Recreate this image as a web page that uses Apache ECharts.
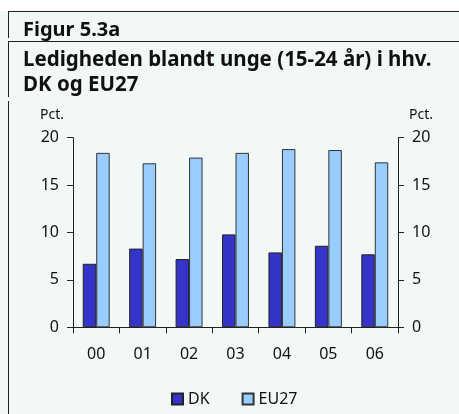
<!DOCTYPE html>
<html>
<head>
<meta charset="utf-8">
<script src="https://cdn.jsdelivr.net/npm/echarts@6/dist/echarts.min.js"></script>
<style>
html,body{margin:0;padding:0;background:#fff;}
#c{width:459px;height:414px;}
</style>
</head>
<body>
<div id="c"></div>
<script>
const categories = ['00', '01', '02', '03', '04', '05', '06'];
const dkValues = [6.7, 8.3, 7.2, 9.8, 7.9, 8.6, 7.7];
const eu27Values = [18.4, 17.3, 17.9, 18.4, 18.8, 18.7, 17.4];
const yTicks = { min: 0, max: 20, interval: 5 };
const titleLine0 = 'Figur 5.3a';
const titleLine1 = 'Ledigheden blandt unge (15-24 år) i hhv.';
const titleLine2 = 'DK og EU27';

const FONT = 'Noto Sans';
const chart = echarts.init(document.getElementById('c'), null, { renderer: 'canvas' });

const yAxisBase = (pos) => ({
  type: 'value',
  position: pos,
  min: yTicks.min, max: yTicks.max, interval: yTicks.interval,
  name: 'Pct.',
  nameLocation: 'end',
  nameGap: 16,
  nameTextStyle: {
    color: '#111', fontFamily: FONT, fontSize: 14,
    align: pos === 'left' ? 'right' : 'left',
    verticalAlign: 'bottom',
    padding: pos === 'left' ? [0, 9, 0, 0] : [0, 0, 0, 11]
  },
  axisLine: { show: true, lineStyle: { color: '#222', width: 1 } },
  axisTick: { show: true, inside: false, length: 6, lineStyle: { color: '#222' } },
  axisLabel: { color: '#111', fontFamily: FONT, fontSize: 16, margin: 14 },
  splitLine: { show: false }
});

chart.setOption({
  backgroundColor: '#f1f8f6',
  animation: false,
  grid: { left: 73, right: 61, top: 137.7, bottom: 86.7, containLabel: false, outerBoundsMode: 'none' },
  legend: {
    data: ['DK', 'EU27'],
    left: 166, top: 386,
    icon: 'rect', itemWidth: 11, itemHeight: 11, itemGap: 32,
    textStyle: { color: '#111', fontFamily: FONT, fontSize: 16 }
  },
  xAxis: {
    type: 'category',
    data: categories,
    boundaryGap: true,
    axisLine: { show: true, lineStyle: { color: '#222', width: 1 } },
    axisTick: { show: true, inside: false, length: 6, alignWithLabel: false, lineStyle: { color: '#222' } },
    axisLabel: { color: '#111', fontFamily: FONT, fontSize: 16, margin: 19 }
  },
  yAxis: [yAxisBase('left'), yAxisBase('right')],
  series: [
    {
      name: 'DK', type: 'bar', data: dkValues, yAxisIndex: 0,
      barGap: '0%', barCategoryGap: '42%',
      itemStyle: { color: '#3434cb', borderColor: '#222', borderWidth: 1 }
    },
    {
      name: 'EU27', type: 'bar', data: eu27Values, yAxisIndex: 0,
      barGap: '0%', barCategoryGap: '42%',
      itemStyle: { color: '#99ccff', borderColor: '#333', borderWidth: 1 }
    }
  ],
  graphic: [
    { type: 'rect', shape: { x: 0, y: 0, width: 459, height: 11 }, style: { fill: '#ffffff' }, silent: true },
    { type: 'line', shape: { x1: 8, y1: 11.5, x2: 459, y2: 11.5 }, style: { stroke: '#222', lineWidth: 1 } },
    { type: 'line', shape: { x1: 8, y1: 41.5, x2: 459, y2: 41.5 }, style: { stroke: '#222', lineWidth: 1 } },
    { type: 'line', shape: { x1: 8.5, y1: 12, x2: 8.5, y2: 38 }, style: { stroke: '#222', lineWidth: 1 } },
    { type: 'line', shape: { x1: 8.5, y1: 42, x2: 8.5, y2: 97 }, style: { stroke: '#222', lineWidth: 1 } },
    { type: 'line', shape: { x1: 8.5, y1: 101, x2: 8.5, y2: 414 }, style: { stroke: '#222', lineWidth: 1 } },
    { type: 'text', left: 23, top: 20, style: { text: titleLine0, fill: '#111', font: 'bold 20px "Noto Sans"' } },
    { type: 'text', left: 23, top: 50, style: { text: titleLine1, fill: '#111', font: 'bold 20.5px "Noto Sans"' } },
    { type: 'text', left: 23, top: 75, style: { text: titleLine2, fill: '#111', font: 'bold 20.5px "Noto Sans"' } }
  ]
});
</script>
</body>
</html>
